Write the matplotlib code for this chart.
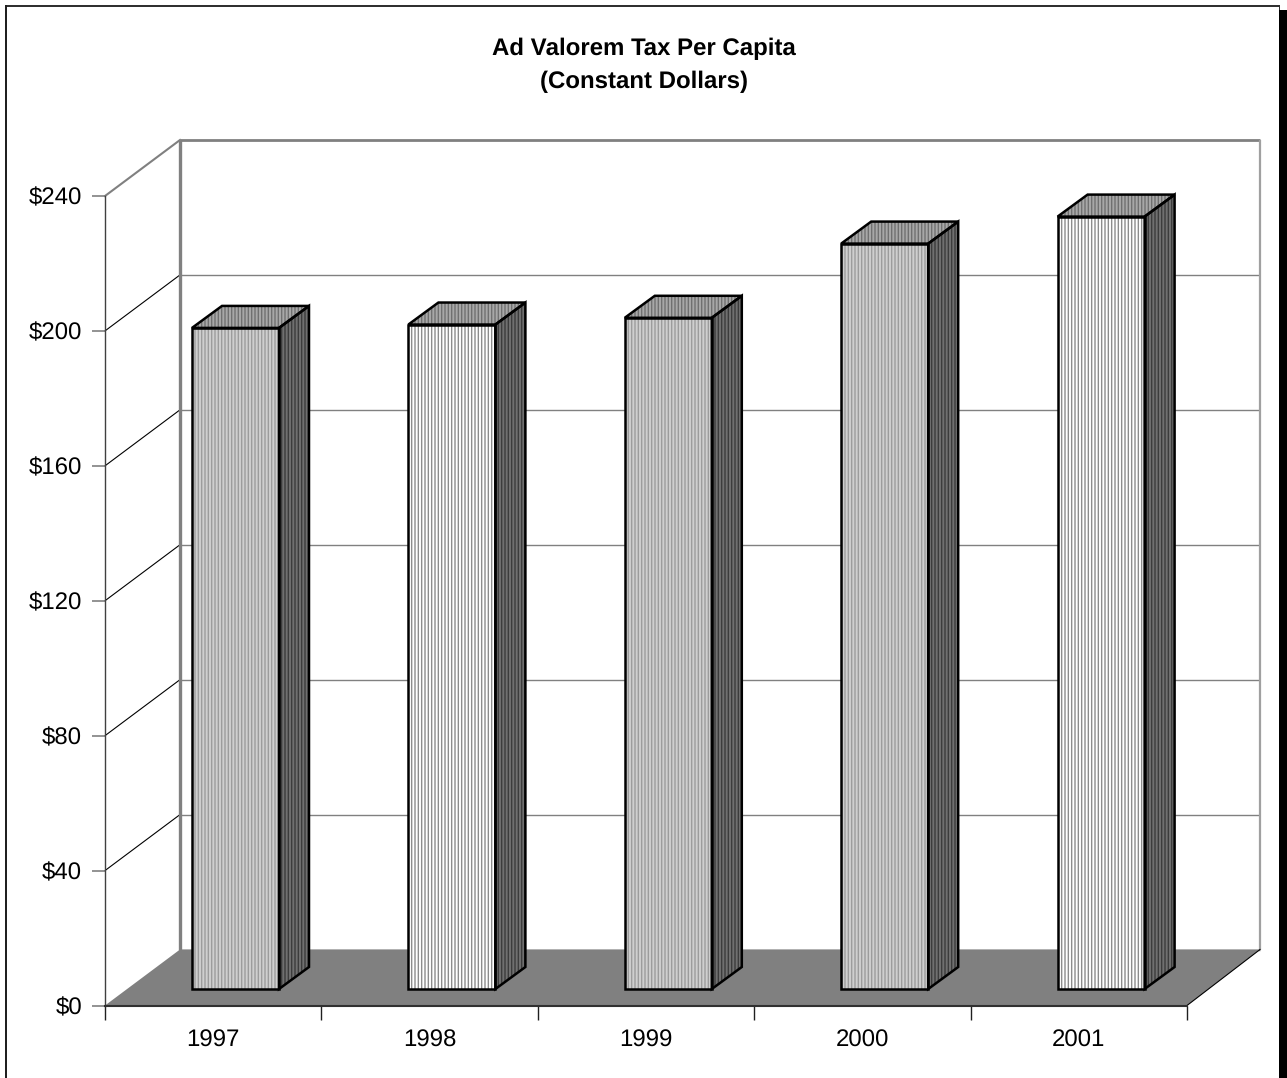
import matplotlib
matplotlib.use("Agg")
import matplotlib.pyplot as plt
from matplotlib.patches import Polygon, Rectangle

years = ["1997", "1998", "1999", "2000", "2001"]
values = [196, 197, 199, 221, 229]
face_colors = ["#cfcfcf", "#ffffff", "#cfcfcf", "#cfcfcf", "#ffffff"]
yticks = [0, 40, 80, 120, 160, 200, 240]
ylabels = ["$0", "$40", "$80", "$120", "$160", "$200", "$240"]
title = "Ad Valorem Tax Per Capita\n(Constant Dollars)"

plt.rcParams["font.family"] = ["Liberation Sans", "DejaVu Sans"]
plt.rcParams["hatch.linewidth"] = 1.0
plt.rcParams["text.hinting"] = "none"
plt.rcParams["text.hinting_factor"] = 1

W, H = 1287, 1078
PXX = (1187 - 105) / 5
PXY = (1005.5 - 196) / 240
fig = plt.figure(figsize=(W / 100, H / 100), dpi=100, facecolor="white")
ax = fig.add_axes([105 / W, (H - 1005.5) / H, 1082 / W, 809.5 / H])
ax.set_xlim(0, 5)
ax.set_ylim(0, 240)
ax.patch.set_visible(False)

wall_dx, wall_dy = 75 / PXX, 56 / PXY
wall_right = 5 + 73 / PXX
bar_dx, bar_dy = 30 / PXX, 22 / PXY
bar_left, bar_w = 87 / PXX, 87 / PXX
base = 16.5 / PXY

# floor
ax.add_patch(Polygon([(0, 0), (5, 0), (wall_right, wall_dy), (wall_dx, wall_dy)],
                     closed=True, fc="#808080", ec="none", zorder=1, clip_on=False))
# back wall and gridlines
for v in yticks:
    top = v == 240
    ax.plot([wall_dx, wall_right], [v + wall_dy] * 2, color="#808080",
            lw=2.0 if top else 1.0, zorder=0.5, clip_on=False, solid_capstyle="butt")
    if v > 0:
        ax.plot([0, wall_dx], [v, v + wall_dy], color="#808080" if top else "#000000",
                lw=1.5 if top else 0.8, zorder=0.5, clip_on=False)
ax.plot([wall_dx, wall_dx], [wall_dy, 240 + wall_dy], color="#808080", lw=2.4,
        zorder=0.6, clip_on=False, solid_capstyle="butt")
ax.plot([wall_right] * 2, [wall_dy, 240 + wall_dy], color="#a0a0a0", lw=1.6,
        zorder=0.6, clip_on=False, solid_capstyle="butt")
ax.plot([5, wall_right], [0, wall_dy], color="#000000", lw=0.8, zorder=1.2, clip_on=False)

# bars
edge = "#000000"
lw = 1.8
lefts = [i + bar_left for i in range(len(values))]
for x0, v, fc in zip(lefts, values, face_colors):
    top = base + v
    x1 = x0 + bar_w
    side = [(x1, base), (x1 + bar_dx, base + bar_dy), (x1 + bar_dx, top + bar_dy), (x1, top)]
    lid = [(x0, top), (x1, top), (x1 + bar_dx, top + bar_dy), (x0 + bar_dx, top + bar_dy)]
    ax.add_patch(Polygon(side, closed=True, fc="#707070", ec="#3c3c3c", hatch="|||||",
                         lw=0, zorder=2, clip_on=False))
    ax.add_patch(Polygon(lid, closed=True, fc="#a8a8a8", ec="#707070", hatch="|||||",
                         lw=0, zorder=2, clip_on=False))
    hc = "#9c9c9c" if fc != "#ffffff" else "#8c8c8c"
    ax.bar(x0, v, width=bar_w, bottom=base, align="edge", color=fc, hatch="|||||",
           edgecolor=hc, lw=0, zorder=2, clip_on=False)
    ax.add_patch(Polygon(side, closed=True, fc="none", ec=edge, lw=lw, zorder=3,
                         clip_on=False, joinstyle="miter"))
    ax.add_patch(Polygon(lid, closed=True, fc="none", ec=edge, lw=lw, zorder=3,
                         clip_on=False, joinstyle="miter"))
    ax.bar(x0, v, width=bar_w, bottom=base, align="edge", color="none",
           edgecolor=edge, lw=lw, zorder=3, clip_on=False)

# axes
for s in ("top", "right"):
    ax.spines[s].set_visible(False)
ax.spines["left"].set_color("#404040")
ax.spines["left"].set_linewidth(1.0)
ax.spines["bottom"].set_color("#303030")
ax.spines["bottom"].set_linewidth(1.5)
ax.spines["left"].set_zorder(4)
ax.spines["bottom"].set_zorder(4)
ax.set_yticks(yticks)
ax.set_yticklabels(ylabels, fontsize=17, color="#000000")
ax.tick_params(axis="y", length=9.4, width=1.2, color="#808080", pad=7)
ax.set_xticks(range(6))
ax.set_xticklabels([])
ax.tick_params(axis="x", which="major", length=10, width=1.0, color="#202020")
ax.set_xticks([i + 0.5 for i in range(5)], minor=True)
ax.set_xticklabels(years, minor=True, fontsize=17)
ax.tick_params(axis="x", which="minor", length=0, pad=17.5)

fig.text(644 / W, 1 - 65 / H, title, ha="center", va="center", fontsize=17.2,
         fontweight="bold", linespacing=1.6)

# chart frame
line = "#000000"
fig.add_artist(Rectangle((5 / W, 1 - 7 / H), 1275 / W, 2 / H, transform=fig.transFigure, fc="#303030", ec="none"))
fig.add_artist(Rectangle((5 / W, 0), 1.6 / W, 1 - 5 / H, transform=fig.transFigure, fc="#202020", ec="none"))
fig.add_artist(Rectangle((1279 / W, 0), 8 / W, 1 - 10 / H, transform=fig.transFigure, fc=line, ec="none"))
fig.add_artist(Rectangle((1279 / W, 1 - 10 / H), 1.2 / W, 5 / H, transform=fig.transFigure, fc="#303030", ec="none"))

fig.savefig("out.png", dpi=100)
